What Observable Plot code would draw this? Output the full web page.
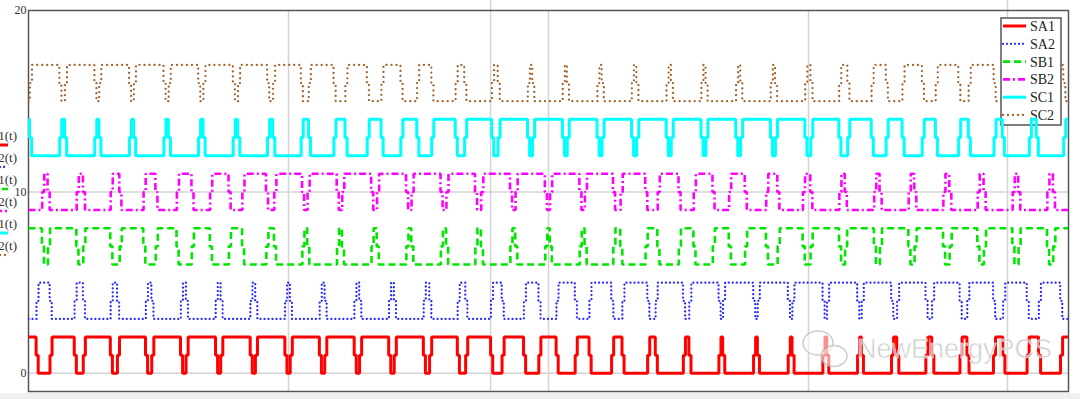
<!DOCTYPE html>
<html><head><meta charset="utf-8">
<script src="https://cdn.jsdelivr.net/npm/d3@7"></script>
<script src="https://cdn.jsdelivr.net/npm/@observablehq/plot@0.6"></script>
<style>body{margin:0;background:#fff;} #chart svg{display:block;}</style>
</head><body><div id="chart"></div>
<script>
// ---- data ----
// carrier periods k = 0..30; "1" signals: high pulse centred on k (width in periods)
// "2" signals: low pulse centred on k (width in periods)
const seriesNames   = ["SA1", "SA2", "SB1", "SB2", "SC1", "SC2"];
const seriesOffsets = [0, 3, 6, 9, 12, 15];
const sa1High = [0.50,0.70,0.78,0.81,0.83,0.85,0.85,0.85,0.84,0.85,0.84,0.84,0.80,0.72,0.62,0.50,0.40,0.30,0.22,0.16,0.11,0.11,0.11,0.11,0.11,0.15,0.17,0.20,0.27,0.33,0.40];
const sa2Low  = [0.52,0.72,0.80,0.83,0.85,0.86,0.86,0.86,0.86,0.86,0.86,0.86,0.82,0.74,0.64,0.52,0.42,0.32,0.24,0.18,0.13,0.13,0.13,0.13,0.13,0.17,0.19,0.22,0.29,0.35,0.42];
const sb1High = [0.83,0.82,0.78,0.68,0.60,0.52,0.38,0.22,0.14,0.14,0.15,0.14,0.15,0.16,0.14,0.13,0.14,0.20,0.34,0.42,0.46,0.60,0.72,0.82,0.83,0.82,0.82,0.80,0.82,0.82,0.82];
const sb2Low  = [0.85,0.84,0.80,0.70,0.62,0.54,0.40,0.24,0.16,0.16,0.17,0.16,0.17,0.18,0.16,0.15,0.16,0.22,0.36,0.44,0.48,0.62,0.74,0.84,0.85,0.84,0.84,0.82,0.84,0.84,0.84];
const sc1High = [0.12,0.14,0.12,0.12,0.13,0.13,0.13,0.15,0.21,0.32,0.40,0.46,0.68,0.78,0.85,0.86,0.86,0.85,0.85,0.86,0.86,0.86,0.85,0.81,0.68,0.46,0.38,0.28,0.24,0.20,0.22];
const sc2Low  = [0.14,0.16,0.14,0.14,0.15,0.15,0.15,0.17,0.23,0.34,0.42,0.48,0.70,0.80,0.87,0.88,0.88,0.87,0.87,0.88,0.88,0.88,0.87,0.83,0.70,0.48,0.40,0.30,0.26,0.22,0.24];
const yTicks  = [0, 10, 20];
const yGrid   = [0, 10];
const xGrid   = [7.5, 15, 22.5];
const cursorX = [13.33, 28.24];

const widthsByName = {SA1: sa1High, SA2: sa2Low, SB1: sb1High, SB2: sb2Low, SC1: sc1High, SC2: sc2Low};
const pulseIsHigh  = {SA1: true, SA2: false, SB1: true, SB2: false, SC1: true, SC2: false};
const styles = {
  SA1: {color: "#ff0000", width: 3,   dash: null,        cap: "butt"},
  SA2: {color: "#2626ff", width: 2.3, dash: "0,4",       cap: "round"},
  SB1: {color: "#00e600", width: 2.6, dash: "7,4",       cap: "butt"},
  SB2: {color: "#ff00ff", width: 2.6, dash: "7,3,2,3",   cap: "butt"},
  SC1: {color: "#00ffff", width: 3,   dash: null,        cap: "butt"},
  SC2: {color: "#a0602a", width: 2.3, dash: "0,5",       cap: "round"}
};

// ---- build step waveforms from pulse widths ----
const T_END = 30, NOTCH = 0.06;
function buildWave(name, offset) {
  const w = widthsByName[name];
  const inL = pulseIsHigh[name] ? offset + 2 : offset;
  const outL = pulseIsHigh[name] ? offset : offset + 2;
  const mid = offset + 1;
  const pts = [];
  const edge = (t, from, to) => {
    pts.push({t: t - NOTCH/2, v: from}, {t: t - NOTCH/2, v: mid}, {t: t + NOTCH/2, v: mid}, {t: t + NOTCH/2, v: to});
  };
  w.forEach((wk, k) => {
    const a = k - wk/2, b = k + wk/2;
    if (k === 0) pts.push({t: 0, v: inL}); else edge(a, outL, inL);
    if (k === w.length - 1) pts.push({t: T_END, v: inL}); else edge(b, inL, outL);
  });
  return pts.map(p => ({...p, name}));
}
const waves = {};
seriesNames.forEach((n, i) => waves[n] = buildWave(n, seriesOffsets[i]));

const lineMark = n => Plot.line(waves[n], {
  x: "t", y: "v", stroke: styles[n].color, strokeWidth: styles[n].width,
  strokeDasharray: styles[n].dash, strokeLinecap: styles[n].cap, clip: true, strokeLinejoin: "miter"
});

const serif = "'Liberation Serif', 'Times New Roman', serif";
const chart = Plot.plot({
  width: 1080, height: 399,
  marginLeft: 28, marginRight: 12, marginTop: 10, marginBottom: 8,
  style: {fontFamily: serif, background: "#fff"},
  x: {domain: [0, T_END], axis: null},
  y: {domain: [-1, 20], axis: null},
  marks: [
    Plot.ruleY(yGrid, {stroke: "#d4d4d4", strokeWidth: 1.5}),
    Plot.ruleX(xGrid, {stroke: "#d4d4d4", strokeWidth: 1.5}),
    Plot.ruleX(cursorX, {stroke: "#d4d4d4", strokeWidth: 1.5, insetTop: -10}),
    Plot.frame({stroke: "#555", strokeWidth: 1.5}),
    Plot.axisY(yTicks, {tickSize: 0, tickPadding: 2, fontSize: 12, fill: "#333", fontFamily: serif, label: null}),
    ...["SA1", "SA2", "SB1", "SB2", "SC2"].map(lineMark),
    lineMark("SC1")
  ]
});
document.getElementById("chart").appendChild(chart);

// ---- legend box (top-right), drawn beneath the SC1 trace ----
const svg = d3.select(chart);
const lastMark = chart.lastChild;
const lg = d3.create("svg:g").attr("text-anchor", "start");
lg.append("rect").attr("x", 1001).attr("y", 18).attr("width", 60).attr("height", 107)
  .attr("fill", "#fff").attr("stroke", "#555").attr("stroke-width", 1.5);
seriesNames.forEach((n, i) => {
  const y = 26 + i * 17.8;
  lg.append("line").attr("x1", 1003).attr("x2", 1026).attr("y1", y).attr("y2", y)
    .attr("stroke", styles[n].color).attr("stroke-width", styles[n].width)
    .attr("stroke-dasharray", styles[n].dash).attr("stroke-linecap", styles[n].cap);
  lg.append("text").attr("x", 1030).attr("y", y).attr("dy", "0.35em").attr("text-anchor", "start")
    .attr("font-family", serif).attr("font-size", 14).attr("fill", "#222").text(n);
});
chart.insertBefore(lg.node(), lastMark);

// ---- clipped y-axis trace legend at far left ----
seriesNames.forEach((n, i) => {
  const y = 135 + i * 22;
  svg.append("text").attr("x", 17).attr("y", y).attr("dy", "0.35em").attr("text-anchor", "end")
    .attr("font-family", serif).attr("font-size", 13).attr("fill", "#333").text(n + "(t)");
  svg.append("line").attr("x1", -20).attr("x2", 8).attr("y1", y + 10).attr("y2", y + 10)
    .attr("stroke", styles[n].color).attr("stroke-width", styles[n].width)
    .attr("stroke-dasharray", styles[n].dash).attr("stroke-linecap", styles[n].cap);
});

// ---- bottom strip & watermark ----
svg.append("rect").attr("x", 0).attr("y", 393).attr("width", 1080).attr("height", 6).attr("fill", "#f0f0f0");
const wm = svg.append("g").attr("opacity", 0.8).attr("text-anchor", "start");
wm.append("ellipse").attr("cx", 818).attr("cy", 343).attr("rx", 15).attr("ry", 12)
  .attr("fill", "#fff").attr("fill-opacity", 0.7).attr("stroke", "#c0c0c0").attr("stroke-width", 1.5);
wm.append("ellipse").attr("cx", 834).attr("cy", 356).attr("rx", 13).attr("ry", 10.5)
  .attr("fill", "#fff").attr("fill-opacity", 0.7).attr("stroke", "#c0c0c0").attr("stroke-width", 1.5);
wm.append("text").attr("x", 857).attr("y", 358).attr("font-family", "'Liberation Sans', Arial, sans-serif")
  .attr("font-size", 27).attr("fill", "#c4c4c4").attr("stroke", "#fff").attr("stroke-width", 0.6)
  .text("NewEnergyPCS");
</script>
</body></html>
